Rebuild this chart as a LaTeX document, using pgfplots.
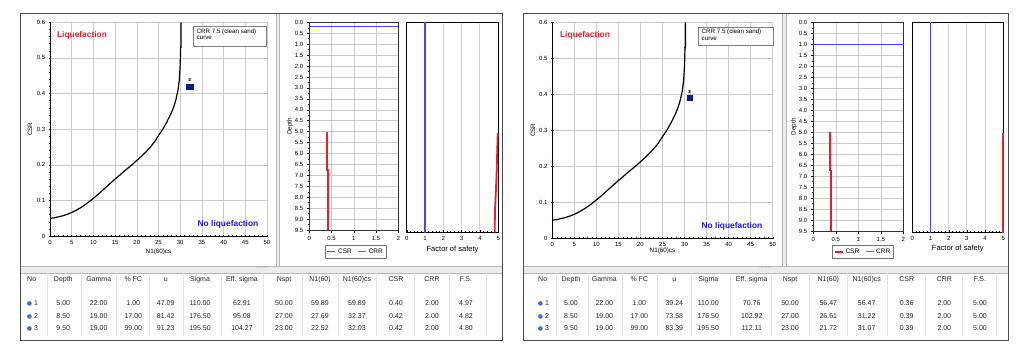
\documentclass[border=0pt]{standalone}
\usepackage{pgfplots}
\pgfplotsset{compat=1.18}
\usepackage{fontspec}
\setmainfont{Liberation Sans}
\newfontfamily\symfont{DejaVu Sans}
\definecolor{liqred}{HTML}{E8202A}
\definecolor{liqblue}{HTML}{1C1CD0}
\definecolor{csrred}{HTML}{E0202A}
\definecolor{wtblue}{HTML}{4444E8}
\definecolor{crrleg}{HTML}{6A6AB0}
\definecolor{ptblue}{HTML}{0A1A8C}
\definecolor{gridgray}{HTML}{CACACA}
\definecolor{framegray}{HTML}{4A4A4A}
\definecolor{ballblue}{HTML}{3B6FD4}
\definecolor{sepgray}{HTML}{B8B8B8}

\pgfplotstableread{
N CSR
0 0.050
1 0.051
2 0.054
3 0.057
4 0.061
5 0.066
6 0.072
7 0.079
8 0.087
9 0.096
10 0.106
11 0.116
12 0.127
13 0.138
14 0.149
15 0.160
16 0.170
17 0.181
18 0.191
19 0.201
20 0.212
21 0.223
22 0.235
23 0.248
24 0.263
25 0.282
26 0.300
27 0.322
28 0.347
28.5 0.362
29 0.382
29.5 0.410
29.8 0.440
30.0 0.480
30.1 0.530
30.2 0.530
30.2 0.600
}\crrcurve

\pgfplotstableread{
x y lbl
59.89 0.40 1
32.37 0.42 2
32.03 0.42 3
}\ptsL
\pgfplotstableread{
x y lbl
56.47 0.36 1
31.22 0.39 2
31.07 0.39 3
}\ptsR

\pgfplotsset{
  base/.style={scale only axis, anchor=south west,
    /pgf/number format/assume math mode=true,
    tick label style={font=\fontsize{6}{6.5}\selectfont, black},
    label style={font=\fontsize{6.3}{7}\selectfont},
    tick style={black, line width=0.4pt}, major tick length=2.5pt, minor tick length=1.3pt,
    tick align=outside},
  crrax/.style={base, xmin=0, xmax=50, ymin=0, ymax=0.6,
    xtick={0,5,10,15,20,25,30,35,40,45,50}, ytick={0,0.1,0.2,0.3,0.4,0.5,0.6},
    minor x tick num=4, minor y tick num=4,
    grid=major, major grid style={gridgray, line width=0.5pt},
    axis lines=left, axis line style={-, black, line width=0.5pt},
    xlabel={N1(60)cs}, ylabel={CSR},
    xlabel style={at={(axis description cs:0.5,0)}, anchor=center}},
  depax/.style={base, xmin=0, xmax=2, ymin=0, ymax=9.5, y dir=reverse,
    xtick={0,0.5,1,1.5,2},
    ytick={0,0.5,1,1.5,2,2.5,3,3.5,4,4.5,5,5.5,6,6.5,7,7.5,8,8.5,9,9.5},
    minor x tick num=4, minor y tick num=1,
    yticklabel style={/pgf/number format/.cd, fixed, fixed zerofill, precision=1},
    grid=major, major grid style={gridgray, line width=0.5pt},
    axis line style={black!80, line width=0.5pt},
    xtick pos=left, ytick pos=left,
    ylabel={Depth},
    legend style={draw=black!55, font=\fontsize{6.5}{7}\selectfont, inner sep=1.2pt,
      legend columns=2, /tikz/every even column/.append style={column sep=4pt}},
    legend image code/.code={\draw[##1] (0pt,0pt) -- (8pt,0pt);}},
  fsax/.style={base, xmin=0, xmax=5, ymin=0, ymax=9.5, y dir=reverse,
    xtick={0,1,2,3,4,5}, ytick=\empty, minor x tick num=4,
    xmajorgrids, major grid style={black!18, line width=1pt},
    axis line style={black, line width=0.6pt}, tick align=inside,
    xtick pos=left, clip=false,
    xlabel={Factor of safety},
    xlabel style={font=\fontsize{7.5}{8}\selectfont, at={(axis description cs:0.5,0)}, anchor=center, yshift=-17pt}}
}

\tikzset{tab/.style={font=\fontsize{7}{8}\selectfont, inner sep=0pt, anchor=base, text=black!85}}
\newcommand\tabrow[3]{\foreach \v [count=\i from 0] in {#3} {\pgfmathsetmacro\cx{#1[\i]}\node[tab] at (\cx pt,#2 pt) {\v};}}
\def\colsL{{63.3,98.7,133.3,165.7,200,242,284,320,357,396,432,466}}
\def\colsR{{571,604.3,639.3,674.3,708.3,751.7,790,828.3,866.7,906.7,944.3,980}}

\begin{document}
\begin{tikzpicture}
\useasboundingbox (0pt,0pt) rectangle (1024pt,353pt);
\fill[white] (0pt,0pt) rectangle (1024pt,353pt);

\begin{scope}[x=1pt,y=1pt]
% ---------- panel decorations ----------
\foreach \xa/\xb/\sa/\sb/\gx in {20/502/276/279.5/262, 523/1008/782.5/786/765} {
  \fill[black!8] (\sa,87) rectangle (\sb,340);
  \draw[sepgray, line width=0.5pt] (\sa,87) -- (\sa,340) (\sb,87) -- (\sb,340);
  \fill[black!8] (\xa,80) rectangle (\xb,87);
  \draw[sepgray, line width=0.6pt] (\xa,87) -- (\xb,87) (\xa,80) -- (\xb,80);
  \node[font=\fontsize{5}{5}\selectfont, text=black!55, inner sep=0pt] at (\gx,84.5) {........};
  \draw[framegray, line width=0.8pt] (\xa,13) rectangle (\xb,340);
}
% column separators
\foreach \cx in {47.6,81,116,149.5,182.8,221,263,302,338.5,376.5,414,449,486,
                 556,587.7,621.8,656.8,691.3,730,770.8,809.2,847.5,886.7,925.5,962.2,996} {
  \draw[black!10, line width=0.4pt] (\cx,17) -- (\cx,80);
}
\end{scope}

% ================= LEFT PANEL =================
\begin{axis}[crrax, at={(50pt,117pt)}, width=217pt, height=213.7pt,
  ylabel style={at={(axis description cs:-0.092,0.5)}, anchor=center},
  xlabel style={yshift=-16pt}]
\addplot[color=black, line width=1.2pt] table[x=N, y=CSR] {\crrcurve};
\addplot[only marks, mark=square*, mark size=2.5pt, color=ptblue, restrict x to domain=0:50,
  nodes near coords, point meta=explicit symbolic,
  every node near coord/.style={font=\fontsize{4.5}{5}\selectfont, black, anchor=south, yshift=1pt}]
  table[x=x, y=y, meta=lbl] {\ptsL};
\end{axis}

\begin{axis}[depax, at={(309.3pt,123pt)}, width=89pt, height=207.7pt,
  ylabel style={at={(axis description cs:-0.217,0.5)}, anchor=center},
  legend style={at={(axis description cs:0.52,-0.1035)}, anchor=center}]
\addplot[color=wtblue, line width=0.9pt, forget plot] coordinates {(0,0.2) (2,0.2)};
\addplot[color=csrred, line width=1.8pt] coordinates {(0.40,5) (0.40,6.75) (0.42,6.75) (0.42,9.5)};
\addlegendentry{CSR}
\addlegendimage{color=crrleg, line width=0.9pt}
\addlegendentry{CRR}
\end{axis}

\begin{axis}[fsax, at={(406.7pt,120.3pt)}, width=91.6pt, height=210.4pt]
\addplot[color=wtblue, line width=1.1pt] coordinates {(1,0) (1,9.5)};
\addplot[color=csrred, line width=1.8pt] coordinates {(4.97,5) (4.90,7) (4.82,8.5) (4.80,9.5)};
\end{axis}

% ================= RIGHT PANEL =================
\begin{axis}[crrax, at={(552.3pt,115pt)}, width=220.4pt, height=215.7pt,
  ylabel style={at={(axis description cs:-0.0876,0.5)}, anchor=center},
  xlabel style={yshift=-13pt}]
\addplot[color=black, line width=1.2pt] table[x=N, y=CSR] {\crrcurve};
\addplot[only marks, mark=square*, mark size=2.5pt, color=ptblue, restrict x to domain=0:50,
  nodes near coords, point meta=explicit symbolic,
  every node near coord/.style={font=\fontsize{4.5}{5}\selectfont, black, anchor=south, yshift=1pt}]
  table[x=x, y=y, meta=lbl] {\ptsR};
\end{axis}

\begin{axis}[depax, at={(813.3pt,122pt)}, width=90pt, height=208.7pt,
  ylabel style={at={(axis description cs:-0.214,0.5)}, anchor=center},
  legend style={at={(axis description cs:0.552,-0.10)}, anchor=center}]
\addplot[color=wtblue, line width=0.9pt, forget plot] coordinates {(0,1.0) (2,1.0)};
\addplot[color=csrred, line width=1.8pt] coordinates {(0.37,5) (0.37,6.75) (0.40,6.75) (0.40,9.5)};
\addlegendentry{CSR}
\addlegendimage{color=crrleg, line width=0.9pt}
\addlegendentry{CRR}
\end{axis}

\begin{axis}[fsax, at={(912.3pt,120.3pt)}, width=91pt, height=210.4pt,
  xlabel style={yshift=0.7pt}]
\addplot[color=wtblue, line width=1.1pt] coordinates {(1,0) (1,9.5)};
\addplot[color=csrred, line width=1.8pt] coordinates {(5.00,5) (5.00,6.75) (5.00,8.5) (5.00,9.5)};
\end{axis}

\begin{scope}[x=1pt,y=1pt]
\node[font=\bfseries\fontsize{8.4}{9}\selectfont, text=liqred] at (82,318) {Liquefaction};
\node[font=\bfseries\fontsize{8.4}{9}\selectfont, text=liqblue] at (228,129) {No liquefaction};
\draw[black!50, fill=white, line width=0.5pt] (193,307) rectangle (266,327);
\node[anchor=north west, align=left, font=\fontsize{6.2}{7}\selectfont, inner sep=0pt] at (196.5,324.5) {CRR 7.5 (clean sand)\\[-0.5pt]curve};

\node[font=\bfseries\fontsize{8.4}{9}\selectfont, text=liqred] at (585,318) {Liquefaction};
\node[font=\bfseries\fontsize{8.4}{9}\selectfont, text=liqblue] at (732,127) {No liquefaction};
\draw[black!50, fill=white, line width=0.5pt] (698,308) rectangle (773,326);
\node[anchor=north west, align=left, font=\fontsize{6.2}{7}\selectfont, inner sep=0pt] at (701.5,324) {CRR 7.5 (clean sand)\\[-0.5pt]curve};

% table left
\node[tab, anchor=base west] at (27,71.2) {No};
\foreach \yy/\n in {47.8/1, 34.8/2, 22.8/3} {
  \node[tab, text=ballblue, font=\symfont\fontsize{6}{6}\selectfont] at (29.5,\yy) {●};
  \node[tab, anchor=base west] at (34,\yy) {\n};
}
% table right
\node[tab, anchor=base west] at (538,71.2) {No};
\foreach \yy/\n in {47.8/1, 34.8/2, 22.8/3} {
  \node[tab, text=ballblue, font=\symfont\fontsize{6}{6}\selectfont] at (540.5,\yy) {●};
  \node[tab, anchor=base west] at (545,\yy) {\n};
}
\end{scope}

\tabrow{\colsL}{71.2}{Depth,Gamma,\% FC,u,Sigma,Eff. sigma,Nspt,N1(60),N1(60)cs,CSR,CRR,F.S.}
\tabrow{\colsL}{47.8}{5.00,22.00,1.00,47.09,110.00,62.91,50.00,59.89,59.89,0.40,2.00,4.97}
\tabrow{\colsL}{34.8}{8.50,19.00,17.00,81.42,176.50,95.08,27.00,27.69,32.37,0.42,2.00,4.82}
\tabrow{\colsL}{22.8}{9.50,19.00,99.00,91.23,195.50,104.27,23.00,22.52,32.03,0.42,2.00,4.80}
\tabrow{\colsR}{71.2}{Depth,Gamma,\% FC,u,Sigma,Eff. sigma,Nspt,N1(60),N1(60)cs,CSR,CRR,F.S.}
\tabrow{\colsR}{47.8}{5.00,22.00,1.00,39.24,110.00,70.76,50.00,56.47,56.47,0.36,2.00,5.00}
\tabrow{\colsR}{34.8}{8.50,19.00,17.00,73.58,176.50,102.92,27.00,26.61,31.22,0.39,2.00,5.00}
\tabrow{\colsR}{22.8}{9.50,19.00,99.00,83.39,195.50,112.11,23.00,21.72,31.07,0.39,2.00,5.00}
\end{tikzpicture}
\end{document}
